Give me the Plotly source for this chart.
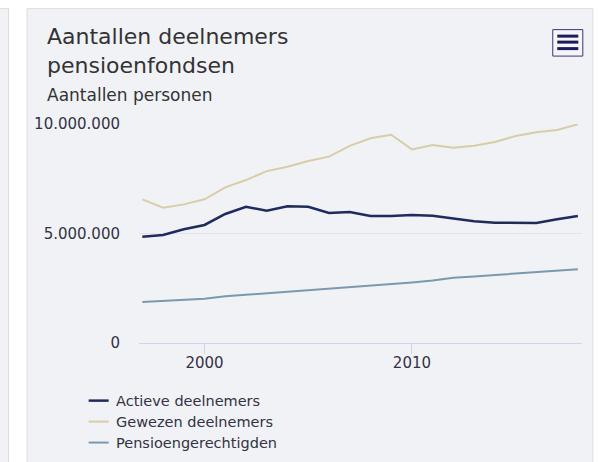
import plotly.graph_objects as go

# =====================================================================
# Data (aantallen personen, afgelezen)
jaren = [1997, 1998, 1999, 2000, 2001, 2002, 2003, 2004, 2005, 2006, 2007,
         2008, 2009, 2010, 2011, 2012, 2013, 2014, 2015, 2016, 2017, 2018]

actieve = [4850000, 4930000, 5190000, 5390000, 5890000, 6220000, 6040000, 6240000,
           6220000, 5940000, 5980000, 5800000, 5800000, 5840000, 5810000, 5680000,
           5560000, 5490000, 5470000, 5480000, 5650000, 5800000]

gewezen = [6560000, 6180000, 6330000, 6560000, 7110000, 7440000, 7850000, 8050000,
           8310000, 8510000, 9000000, 9350000, 9510000, 8840000, 9040000, 8920000,
           9010000, 9180000, 9450000, 9620000, 9730000, 9990000]

pensioen = [1870000, 1920000, 1970000, 2020000, 2130000, 2200000, 2270000, 2340000,
            2400000, 2460000, 2550000, 2600000, 2680000, 2760000, 2850000, 2980000,
            3040000, 3110000, 3180000, 3230000, 3300000, 3370000]

series = [
    ("Actieve deelnemers", actieve, "#1f2a5e", 2.5),
    ("Gewezen deelnemers", gewezen, "#d9cca8", 2),
    ("Pensioengerechtigden", pensioen, "#7a99ae", 2),
]

# =====================================================================
# Layout helpers (pixels -> paper)
W, H = 600, 462
L, R, T, B = 139.3, 18.3, 124, 118.7
PW = W - L - R
PH = H - T - B


def px(x):
    return (x - L) / PW


def py(y):
    return (H - B - y) / PH


FONT = "DejaVu Sans, Verdana, sans-serif"
CARD = "#f0f2f6"

fig = go.Figure()
for naam, waarden, kleur, dikte in series:
    fig.add_trace(go.Scatter(
        x=jaren, y=waarden, name=naam, mode="lines",
        line=dict(color=kleur, width=dikte),
        hovertemplate="%{x}<br>" + naam + ": %{y:,.0f}<extra></extra>",
    ))

shapes = [
    # kaart links (afgesneden)
    dict(type="rect", xref="paper", yref="paper", x0=px(-20), x1=px(9), y0=py(8.5), y1=py(480),
         line=dict(color="#dcdcdc", width=1), fillcolor=CARD, layer="below"),
    # hoofdkaart
    dict(type="rect", xref="paper", yref="paper", x0=px(27.5), x1=px(592.5), y0=py(8.5), y1=py(480),
         line=dict(color="#dcdcdc", width=1), fillcolor=CARD, layer="below"),
    # menuknop
    dict(type="rect", xref="paper", yref="paper", x0=px(552.5), x1=px(582.5), y0=py(29.5), y1=py(56),
         line=dict(color="#3a347a", width=1), fillcolor="#f4f5f9"),
]
for yy in [36, 42, 48.5]:
    shapes.append(dict(type="line", xref="paper", yref="paper", x0=px(557), x1=px(578),
                       y0=py(yy), y1=py(yy), line=dict(color="#1c1a5e", width=3)))

annotations = [
    dict(text="Aantallen deelnemers<br>pensioenfondsen", x=px(45), y=py(51), xref="paper",
         yref="paper", xanchor="left", yanchor="middle", align="left", showarrow=False,
         font=dict(family=FONT, size=22, color="#333333")),
    dict(text="Aantallen personen", x=px(45), y=py(94.5), xref="paper", yref="paper",
         xanchor="left", yanchor="middle", showarrow=False,
         font=dict(family=FONT, size=17, color="#333333")),
]

# legenda (handmatig, onder de grafiek)
for i, (naam, _, kleur, dikte) in enumerate(series):
    yy = 401 + 21 * i
    shapes.append(dict(type="line", xref="paper", yref="paper", x0=px(89), x1=px(109),
                       y0=py(yy), y1=py(yy), line=dict(color=kleur, width=dikte)))
    annotations.append(dict(text=naam, x=px(114), y=py(yy), xref="paper", yref="paper",
                            xanchor="left", yanchor="middle", showarrow=False,
                            font=dict(family=FONT, size=14.5, color="#333344")))

fig.update_layout(
    width=W, height=H,
    margin=dict(l=L, r=R, t=T, b=B, pad=0),
    paper_bgcolor="white",
    plot_bgcolor="rgba(0,0,0,0)",
    separators=",.",
    font=dict(family=FONT, size=15, color="#333344"),
    shapes=shapes,
    annotations=annotations,
    hovermode="x unified",
    showlegend=False,
    xaxis=dict(
        range=[1996.84, 2018.2], tickvals=[2000, 2010], ticktext=["2000", "2010"],
        showgrid=False, zeroline=False, showline=True, linecolor="#ccd6eb", linewidth=1,
        ticks="outside", ticklen=10, tickcolor="#ccd6eb", tickwidth=1, ticklabelstandoff=-4,
        tickfont=dict(family=FONT, size=15, color="#333344"), fixedrange=True,
    ),
    yaxis=dict(
        range=[0, 10000000], tickvals=[0, 5000000, 10000000], tickformat=",.0f",
        showgrid=True, gridcolor="#e3e5ea", gridwidth=1, zeroline=False, showline=False,
        ticks="", ticklabelstandoff=18,
        tickfont=dict(family=FONT, size=15, color="#333344"), fixedrange=True,
    ),
)

fig.write_html("out.html", config={"displayModeBar": False},
               post_script="document.body.style.margin='0px';")
